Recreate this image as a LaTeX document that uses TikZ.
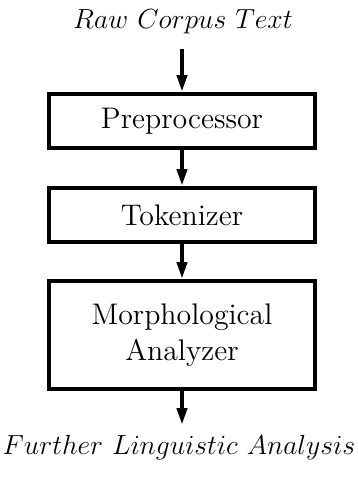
\documentclass[tikz,border=0pt]{standalone}
\usetikzlibrary{arrows.meta}
\newcommand{\flowlabel}[1]{\scalebox{0.96}{$#1$}}
\begin{document}
\begin{tikzpicture}[x=0.5pt,y=-0.5pt,
  stage/.style={draw,line width=2pt,minimum width=133pt,align=center,inner sep=0pt,
    font=\fontsize{14.9}{18}\selectfont},
  label/.style={font=\fontsize{14.4}{17}\selectfont,inner sep=0pt},
  flow/.style={line width=2pt,-{Triangle[length=8.5pt,width=5pt]}}]
\useasboundingbox (0,0) rectangle (358,482);
\node[label] (raw) at (183,22) {\flowlabel{Raw\ Corpus\ Text}};
\node[stage,minimum height=27pt] (pre) at (182,121) {Preprocessor};
\node[stage,minimum height=27pt] (tok) at (182,215) {Tokenizer};
\node[stage,minimum height=54pt] (morph) at (182,335) {Morphological\\Analyzer};
\node[label] (fur) at (179,448) {\flowlabel{Further\ Linguistic\ Analysis}};
\coordinate (s) at (182,49);
\coordinate (e) at (182,425);
\draw[flow] (s) -- (pre.north);
\draw[flow] (pre.south) -- (tok.north);
\draw[flow] (tok.south) -- (morph.north);
\draw[flow] (morph.south) -- (e);
\end{tikzpicture}
\end{document}
